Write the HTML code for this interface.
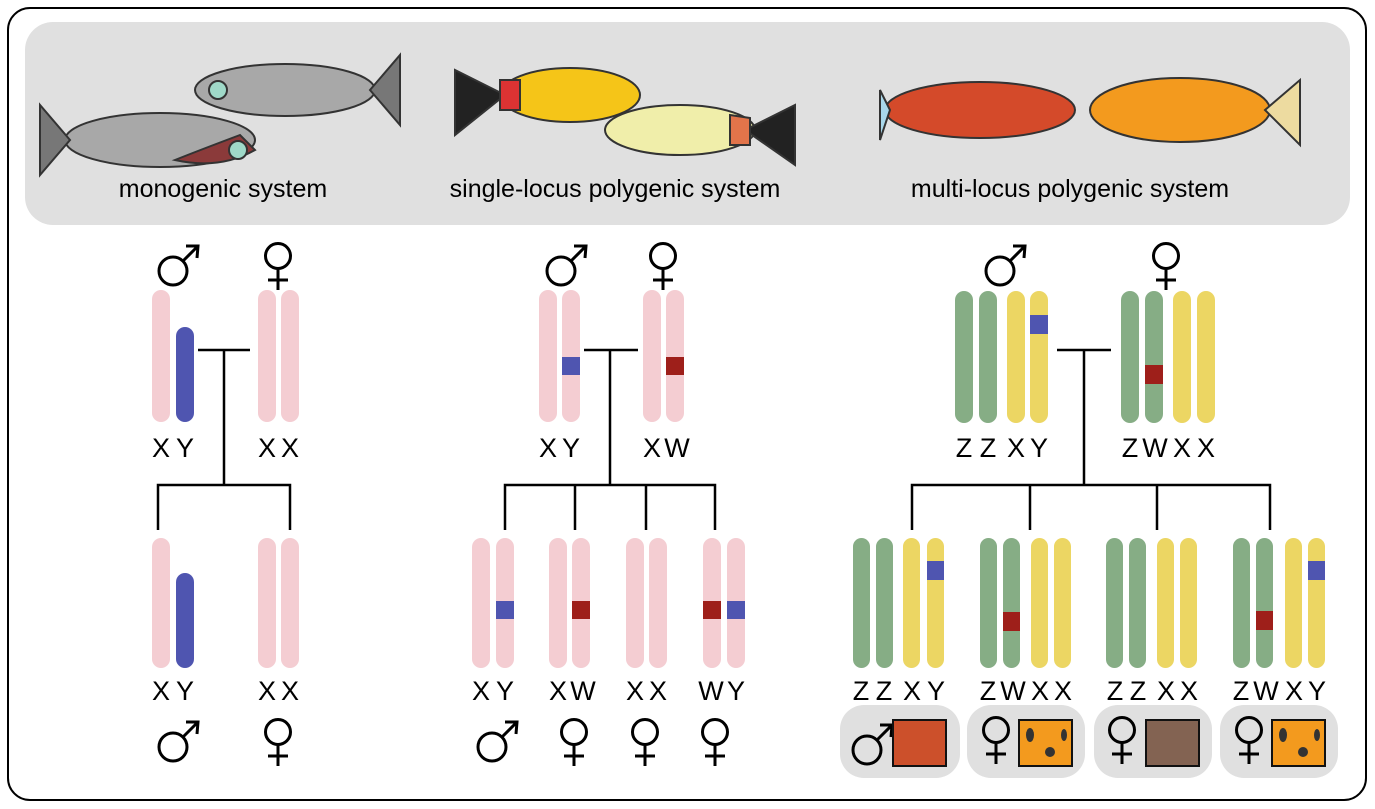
<!DOCTYPE html>
<html><head><style>
body{margin:0;background:#fff;}
svg{display:block;font-family:"Liberation Sans",sans-serif;}
</style></head><body>
<svg width="1375" height="809" viewBox="0 0 1375 809" xmlns="http://www.w3.org/2000/svg">
<defs>
<g id="male"><circle cx="-5" cy="7" r="14" fill="none" stroke="#000" stroke-width="3"/><path d="M5 -3 L20 -18 M8 -18 L20 -18 L19 -6" fill="none" stroke="#000" stroke-width="3"/></g>
<g id="female"><circle cx="0" cy="-8" r="12.5" fill="none" stroke="#000" stroke-width="3"/><path d="M0 4.5 V26 M-10 16 H10" stroke="#000" stroke-width="3"/></g>
</defs>
<rect x="8" y="8" width="1358" height="792" rx="22" fill="#fff" stroke="#000" stroke-width="2"/>
<rect x="25" y="22" width="1325" height="203" rx="28" fill="#e0e0e0"/>
<g stroke="#333" stroke-width="2">
<ellipse cx="285" cy="90" rx="90" ry="26" fill="#a8a8a8"/><path d="M370 90 L400 55 L400 125 Z" fill="#777"/>
<ellipse cx="160" cy="140" rx="95" ry="27" fill="#a8a8a8"/><path d="M70 140 L40 105 L40 175 Z" fill="#777"/>
<path d="M175 160 Q220 170 255 150 L240 135 Q200 150 175 160Z" fill="#8b3a3a"/>
<circle cx="238" cy="150" r="9" fill="#9fd9c8"/><circle cx="218" cy="90" r="9" fill="#9fd9c8"/>
<ellipse cx="570" cy="95" rx="70" ry="27" fill="#f5c518"/><path d="M505 95 L455 70 L455 135 Z" fill="#222"/><path d="M500 80 L520 80 L520 110 L500 110Z" fill="#d33"/>
<ellipse cx="680" cy="130" rx="75" ry="25" fill="#f0eeaa"/><path d="M745 130 L795 105 L795 165 Z" fill="#222"/><path d="M730 115 L750 118 L750 145 L730 145Z" fill="#e2744a"/>
<ellipse cx="980" cy="110" rx="95" ry="28" fill="#d44a2a"/><path d="M890 110 L880 90 L880 140 Z" fill="#a9d7ea"/>
<ellipse cx="1180" cy="110" rx="90" ry="32" fill="#f39a1e"/><path d="M1265 110 L1300 80 L1300 145 Z" fill="#eddba0"/>
</g>
<g font-size="25" fill="#000" text-anchor="middle">
<text x="223" y="197">monogenic system</text>
<text x="615" y="197">single-locus polygenic system</text>
<text x="1070" y="197">multi-locus polygenic system</text>
</g>
<g stroke="#000" stroke-width="2.5" fill="none">
<path d="M198 350 H250 M224 350 V485 M158 530 V485 H290 V530"/>
<path d="M584 350 H638 M610 350 V485 M505 530 V485 H715 V530 M575 485 V530 M646 485 V530"/>
<path d="M1057 350 H1111 M1084 350 V485 M912 530 V485 H1270 V530 M1030 485 V530 M1157 485 V530"/>
</g>
<g>
<g fill="#f4cdd2">
<rect x="152" y="290" width="18" height="132" rx="9"/><rect x="258" y="290" width="18" height="132" rx="9"/><rect x="281" y="290" width="18" height="132" rx="9"/>
<rect x="152" y="538" width="18" height="130" rx="9"/><rect x="258" y="538" width="18" height="130" rx="9"/><rect x="281" y="538" width="18" height="130" rx="9"/>
<rect x="539" y="290" width="18" height="132" rx="9"/><rect x="562" y="290" width="18" height="132" rx="9"/><rect x="643" y="290" width="18" height="132" rx="9"/><rect x="666" y="290" width="18" height="132" rx="9"/>
<rect x="472" y="538" width="18" height="130" rx="9"/><rect x="496" y="538" width="18" height="130" rx="9"/><rect x="549" y="538" width="18" height="130" rx="9"/><rect x="572" y="538" width="18" height="130" rx="9"/>
<rect x="626" y="538" width="18" height="130" rx="9"/><rect x="649" y="538" width="18" height="130" rx="9"/><rect x="703" y="538" width="18" height="130" rx="9"/><rect x="727" y="538" width="18" height="130" rx="9"/>
</g>
<rect x="176" y="327" width="18" height="95" rx="9" fill="#4f55b0"/>
<rect x="176" y="573" width="18" height="95" rx="9" fill="#4f55b0"/>
<g fill="#4f55b0"><rect x="562" y="357" width="18" height="18"/><rect x="496" y="601" width="18" height="18"/><rect x="727" y="601" width="18" height="18"/></g>
<g fill="#9e1f1a"><rect x="666" y="357" width="18" height="18"/><rect x="572" y="601" width="18" height="18"/><rect x="703" y="601" width="18" height="18"/></g>
<g fill="#86ad85">
<rect x="955" y="291" width="18" height="132" rx="9"/><rect x="979" y="291" width="18" height="132" rx="9"/><rect x="1121" y="291" width="18" height="132" rx="9"/><rect x="1145" y="291" width="18" height="132" rx="9"/>
<rect x="853" y="538" width="17" height="130" rx="8.5"/><rect x="876" y="538" width="17" height="130" rx="8.5"/>
<rect x="980" y="538" width="17" height="130" rx="8.5"/><rect x="1003" y="538" width="17" height="130" rx="8.5"/>
<rect x="1106" y="538" width="17" height="130" rx="8.5"/><rect x="1129" y="538" width="17" height="130" rx="8.5"/>
<rect x="1233" y="538" width="17" height="130" rx="8.5"/><rect x="1256" y="538" width="17" height="130" rx="8.5"/>
</g>
<g fill="#ecd663">
<rect x="1007" y="291" width="18" height="132" rx="9"/><rect x="1030" y="291" width="18" height="132" rx="9"/><rect x="1173" y="291" width="18" height="132" rx="9"/><rect x="1197" y="291" width="18" height="132" rx="9"/>
<rect x="903" y="538" width="17" height="130" rx="8.5"/><rect x="927" y="538" width="17" height="130" rx="8.5"/>
<rect x="1031" y="538" width="17" height="130" rx="8.5"/><rect x="1054" y="538" width="17" height="130" rx="8.5"/>
<rect x="1157" y="538" width="17" height="130" rx="8.5"/><rect x="1180" y="538" width="17" height="130" rx="8.5"/>
<rect x="1285" y="538" width="17" height="130" rx="8.5"/><rect x="1308" y="538" width="17" height="130" rx="8.5"/>
</g>
<g fill="#4f55b0"><rect x="1030" y="315" width="18" height="19"/><rect x="927" y="561" width="17" height="19"/><rect x="1308" y="561" width="17" height="19"/></g>
<g fill="#9e1f1a"><rect x="1145" y="365" width="18" height="19"/><rect x="1003" y="612" width="17" height="19"/><rect x="1256" y="611" width="17" height="19"/></g>
</g>
<g font-size="27" fill="#000" text-anchor="middle">
<text x="161" y="457">X</text><text x="185" y="457">Y</text><text x="267" y="457">X</text><text x="290" y="457">X</text>
<text x="161" y="700">X</text><text x="185" y="700">Y</text><text x="267" y="700">X</text><text x="290" y="700">X</text>
<text x="548" y="457">X</text><text x="571" y="457">Y</text><text x="652" y="457">X</text><text x="677" y="457">W</text>
<text x="481" y="700">X</text><text x="505" y="700">Y</text><text x="558" y="700">X</text><text x="583" y="700">W</text>
<text x="635" y="700">X</text><text x="658" y="700">X</text><text x="711" y="700">W</text><text x="736" y="700">Y</text>
<text x="964" y="457">Z</text><text x="988" y="457">Z</text><text x="1016" y="457">X</text><text x="1039" y="457">Y</text>
<text x="1130" y="457">Z</text><text x="1155" y="457">W</text><text x="1182" y="457">X</text><text x="1206" y="457">X</text>
<text x="861" y="700">Z</text><text x="884" y="700">Z</text><text x="912" y="700">X</text><text x="936" y="700">Y</text>
<text x="988" y="700">Z</text><text x="1013" y="700">W</text><text x="1040" y="700">X</text><text x="1063" y="700">X</text>
<text x="1115" y="700">Z</text><text x="1138" y="700">Z</text><text x="1166" y="700">X</text><text x="1189" y="700">X</text>
<text x="1241" y="700">Z</text><text x="1266" y="700">W</text><text x="1294" y="700">X</text><text x="1317" y="700">Y</text>
</g>
<use href="#male" x="178" y="264"/><use href="#female" x="278" y="264"/>
<use href="#male" x="178" y="740"/><use href="#female" x="278" y="740"/>
<use href="#male" x="566" y="264"/><use href="#female" x="663" y="264"/>
<use href="#male" x="497" y="740"/><use href="#female" x="574" y="740"/><use href="#female" x="645" y="740"/><use href="#female" x="715" y="740"/>
<use href="#male" x="1005" y="264"/><use href="#female" x="1166" y="264"/>
<g fill="#e0e0e0"><rect x="840" y="705" width="120" height="73" rx="24"/><rect x="967" y="705" width="118" height="73" rx="24"/><rect x="1094" y="705" width="118" height="73" rx="24"/><rect x="1220" y="705" width="118" height="73" rx="24"/></g>
<use href="#male" x="872" y="743"/><use href="#female" x="996" y="738"/><use href="#female" x="1122" y="738"/><use href="#female" x="1249" y="738"/>
<g stroke="#111" stroke-width="2">
<rect x="893" y="720" width="53" height="46" fill="#cc502b"/>
<rect x="1019" y="720" width="53" height="46" fill="#f39a1e"/>
<rect x="1146" y="720" width="53" height="46" fill="#836352"/>
<rect x="1272" y="720" width="53" height="46" fill="#f39a1e"/>
</g>
<g fill="#333"><ellipse cx="1030" cy="735" rx="4" ry="7"/><circle cx="1050" cy="752" r="5"/><ellipse cx="1064" cy="735" rx="3" ry="6"/><ellipse cx="1283" cy="735" rx="4" ry="7"/><circle cx="1303" cy="752" r="5"/><ellipse cx="1317" cy="735" rx="3" ry="6"/></g>
</svg>
</body></html>
